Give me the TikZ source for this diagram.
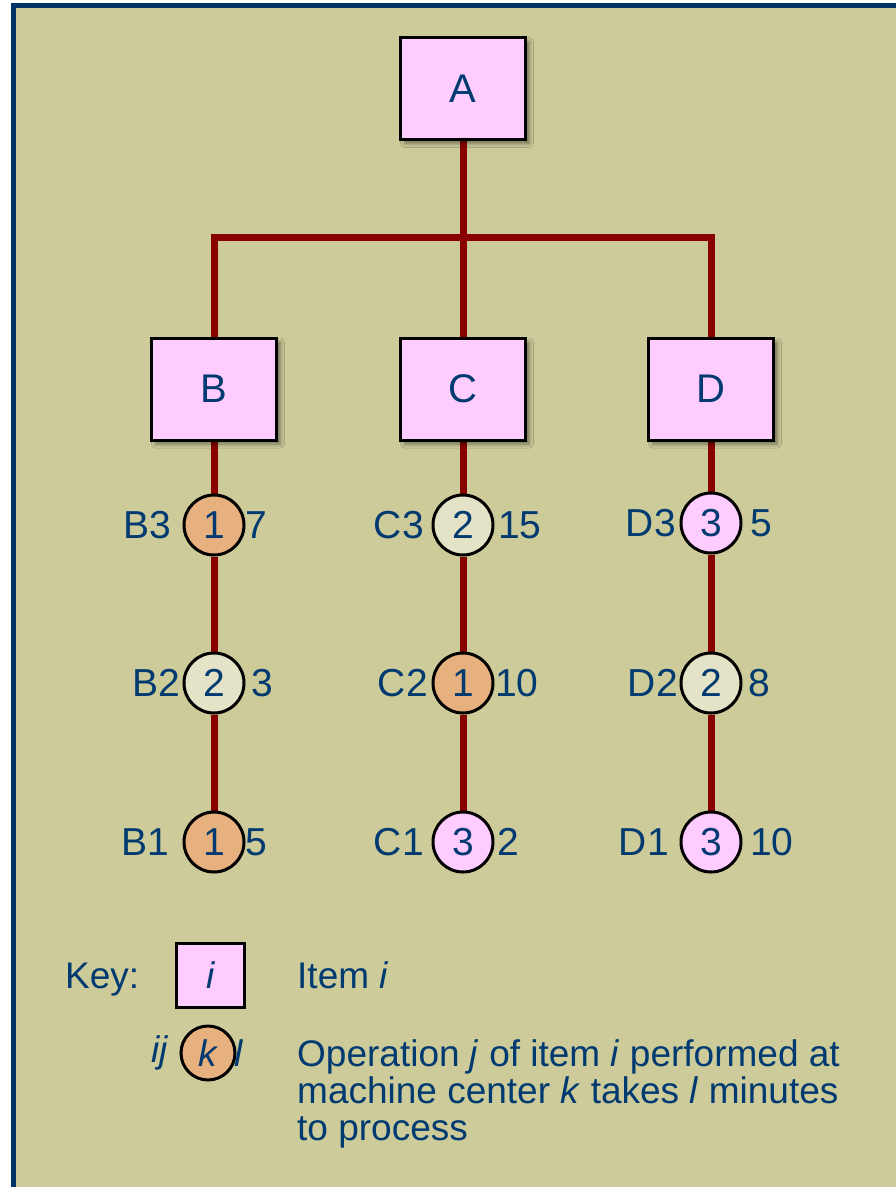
\documentclass[tikz,border=0pt]{standalone}
\usepackage{fontspec}
\setmainfont{Liberation Sans}
\usetikzlibrary{shadows.blur,backgrounds}
\definecolor{bgkhaki}{HTML}{CCCB99}
\definecolor{frameblue}{HTML}{003366}
\definecolor{txtblue}{HTML}{003A70}
\definecolor{itempink}{HTML}{FFCCFF}
\definecolor{oporange}{HTML}{E6B07F}
\definecolor{oplight}{HTML}{E4E3C8}
\definecolor{treered}{HTML}{880000}
\tikzset{
  itembox/.style={draw=black, line width=3pt, fill=itempink, minimum width=125pt, minimum height=102pt,
    inner sep=0pt, text=txtblue, font=\fontsize{40}{40}\selectfont,
    blur shadow={shadow xshift=4pt, shadow yshift=-4pt, shadow blur radius=4pt, shadow opacity=45}},
  opcirc/.style={circle, draw=black, line width=3pt, minimum size=60pt, inner sep=0pt,
    text=txtblue, font=\fontsize{39}{39}\selectfont},
  orangeop/.style={opcirc, fill=oporange},
  lightop/.style={opcirc, fill=oplight},
  pinkop/.style={opcirc, fill=itempink},
  oplabel/.style={inner sep=0pt, text=txtblue, font=\fontsize{39}{39}\selectfont},
  keytext/.style={inner sep=0pt, text=txtblue, font=\fontsize{37}{37}\selectfont},
  treeline/.style={draw=treered, line width=7pt},
}
\begin{document}
\begin{tikzpicture}[x=1pt,y=-1pt]
\useasboundingbox (0,0) rectangle (895,1187);
% items
\node[itembox] (A) at (463,88.5) {A};
\node[itembox] (B) at (214,389) {B};
\node[itembox] (C) at (463,389) {C};
\node[itembox] (D) at (711,389) {D};
\coordinate (bar) at (463,237);
% operations
\node[orangeop] (B3) at (214,525) {1};
\node[lightop]  (B2) at (214,683) {2};
\node[orangeop] (B1) at (214,842) {1};
\node[lightop]  (C3) at (463,525) {2};
\node[orangeop] (C2) at (463,683) {1};
\node[pinkop]   (C1) at (463,842) {3};
\node[pinkop]   (D3) at (711,523) {3};
\node[lightop]  (D2) at (711,683) {2};
\node[pinkop]   (D1) at (711,842) {3};
% labels
\node[oplabel, anchor=east] (lB3) at (171,525) {B3};
\node[oplabel, anchor=east] (lB2) at (180,683) {B2};
\node[oplabel, anchor=east] (lB1) at (169,842) {B1};
\node[oplabel, anchor=east] (lC3) at (424,525) {C3};
\node[oplabel, anchor=east] (lC2) at (428,683) {C2};
\node[oplabel, anchor=east] (lC1) at (424,842) {C1};
\node[oplabel, anchor=east] (lD3) at (676,523) {D3};
\node[oplabel, anchor=east] (lD2) at (678,683) {D2};
\node[oplabel, anchor=east] (lD1) at (669,842) {D1};
\node[oplabel, anchor=west] (tB3) at (245,525) {7};
\node[oplabel, anchor=west] (tB2) at (251,683) {3};
\node[oplabel, anchor=west] (tB1) at (245,842) {5};
\node[oplabel, anchor=west] (tC3) at (498,525) {15};
\node[oplabel, anchor=west] (tC2) at (495,683) {10};
\node[oplabel, anchor=west] (tC1) at (497,842) {2};
\node[oplabel, anchor=west] (tD3) at (750,523) {5};
\node[oplabel, anchor=west] (tD2) at (748,683) {8};
\node[oplabel, anchor=west] (tD1) at (750,842) {10};
% key
\node[keytext, anchor=base west] (keylbl) at (65,988) {Key:};
\node[draw=black, line width=3pt, fill=itempink, minimum width=68pt, minimum height=64pt, inner sep=0pt,
  text=txtblue, font=\fontsize{37}{37}\selectfont] (keybox) at (210.5,975.5) {\itshape i};
\node[keytext, anchor=base west] (keyitem) at (297,988) {Item \textit{i}};
\node[circle, draw=black, line width=3pt, fill=oporange, minimum size=54pt, inner sep=0pt,
  text=txtblue, font=\fontsize{37}{37}\selectfont] (keycirc) at (208,1053) {\itshape k};
\node[keytext, anchor=east] (keyij) at (168,1053) {\itshape ij};
\node[keytext, anchor=west] (keyl) at (234,1053) {\itshape l};
\node[keytext, anchor=north west, align=left] (keyop) at (297,1039)
  {Operation \textit{j} of item \textit{i} performed at\\
   machine center \textit{k} takes \textit{l} minutes\\
   to process};
% background: frame and tree lines
\begin{pgfonlayer}{background}
\draw[draw=frameblue, line width=5pt, fill=bgkhaki] (13.5,5.5) rectangle (920,1220);
\draw[treeline] (A.south) -- (C.north);
\draw[treeline] (B.north) |- (bar) -| (D.north);
\draw[treeline] (B.south) -- (B3) -- (B2) -- (B1);
\draw[treeline] (C.south) -- (C3) -- (C2) -- (C1);
\draw[treeline] (D.south) -- (D3) -- (D2) -- (D1);
\end{pgfonlayer}
\end{tikzpicture}
\end{document}
